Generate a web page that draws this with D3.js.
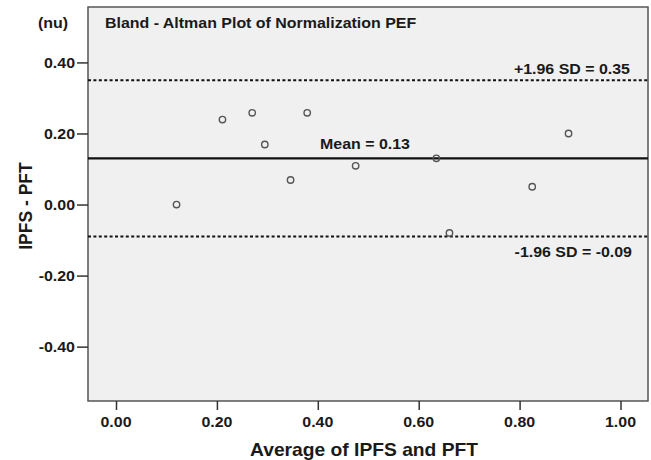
<!DOCTYPE html>
<html><head><meta charset="utf-8">
<script src="https://cdn.jsdelivr.net/npm/d3@7"></script>
<style>body{margin:0;background:#fff}svg{display:block}text{font-family:"Liberation Sans",Arial,sans-serif;font-weight:bold;fill:#1a1a1a}</style>
</head><body><svg id="c" width="651" height="460"></svg>
<script>
const xAvg = [0.120, 0.211, 0.270, 0.295, 0.346, 0.379, 0.475, 0.635, 0.661, 0.825, 0.897];
const yDiff = [0.000, 0.239, 0.258, 0.169, 0.069, 0.258, 0.109, 0.130, -0.080, 0.050, 0.200];
const meanDiff = 0.13;
const upperLoA = 0.35;
const lowerLoA = -0.09;
const xTicks = [0, 0.2, 0.4, 0.6, 0.8, 1.0];
const yTicks = [-0.4, -0.2, 0, 0.2, 0.4];
const title = "Bland - Altman Plot of Normalization PEF";
const xTitle = "Average of IPFS and PFT";
const yTitle = "IPFS - PFT";
const unitLabel = "(nu)";

const fmt = v => d3.format(".2f")(v).replace("\u2212", "-");
const svg = d3.select("#c");
const L = 88, R = 648, T = 7, B = 401;
const x = d3.scaleLinear().domain([-0.0555, 1.0545]).range([L, R]);
const y = d3.scaleLinear().domain([-0.553, 0.556]).range([B, T]);
const SX = 1.1;
function htext(g, str, px, py, size, anchor) {
  return g.append("text").attr("transform", `translate(${px},${py}) scale(${SX},1)`)
    .attr("text-anchor", anchor || "start").style("font-size", size + "px").text(str);
}

svg.append("rect").attr("x", L).attr("y", T).attr("width", R - L).attr("height", B - T)
  .attr("fill", "#f0f0f0").attr("stroke", "#555").attr("stroke-width", 1.5);

const ya = svg.append("g").attr("transform", `translate(${L},0)`)
  .call(d3.axisLeft(y).tickValues(yTicks).tickSize(11).tickFormat(() => ""));
ya.select(".domain").remove();
ya.selectAll(".tick line").attr("stroke", "#333").attr("stroke-width", 1.5);
yTicks.forEach(v => htext(svg, fmt(v), 75, y(v) + 5.5, 14.5, "end"));

const xa = svg.append("g").attr("transform", `translate(0,${B})`)
  .call(d3.axisBottom(x).tickValues(xTicks).tickSize(9).tickFormat(() => ""));
xa.select(".domain").remove();
xa.selectAll(".tick line").attr("stroke", "#333").attr("stroke-width", 1.5);
xTicks.forEach(v => htext(svg, fmt(v), x(v), 427, 14.5, "middle"));

const lines = [
  {v: upperLoA, dash: "3,2.4", label: "+1.96 SD = " + fmt(upperLoA), lx: 630, dy: -6},
  {v: meanDiff, dash: null, label: "Mean = " + fmt(meanDiff), lx: 320, dy: -9, anchor: "start"},
  {v: lowerLoA, dash: "3,2.4", label: "-1.96 SD = " + fmt(lowerLoA), lx: 632, dy: 20}
];
lines.forEach(d => {
  svg.append("line").attr("x1", L).attr("x2", R).attr("y1", y(d.v)).attr("y2", y(d.v))
    .attr("stroke", "#111").attr("stroke-width", d.dash ? 2 : 2.2)
    .attr("stroke-dasharray", d.dash);
});

svg.append("g").selectAll("circle").data(xAvg).join("circle")
  .attr("cx", (d) => x(d)).attr("cy", (d, i) => y(yDiff[i])).attr("r", 3.2)
  .attr("fill", "none").attr("stroke", "#555").attr("stroke-width", 1.4);

lines.forEach(d => htext(svg, d.label, d.lx, y(d.v) + d.dy, 14.5, d.anchor || "end"));

htext(svg, title, 105, 28, 14.5, "start");
htext(svg, unitLabel, 38, 28, 14.5, "start");
htext(svg, xTitle, 364, 456, 17.5, "middle");
svg.append("text").attr("transform", `translate(32,${206}) rotate(-90)`)
  .attr("text-anchor", "middle").style("font-size", "17.5px").text(yTitle);
</script></body></html>
